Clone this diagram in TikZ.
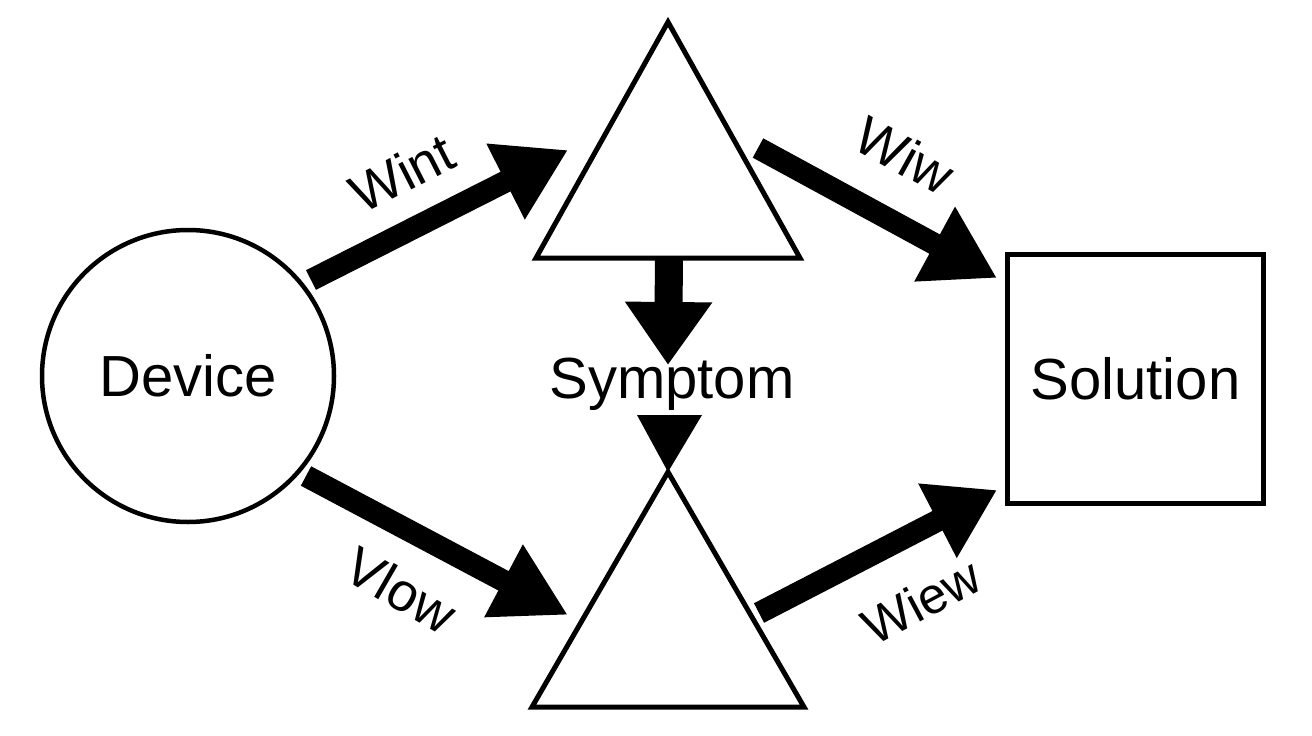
\documentclass[tikz,border=0pt]{standalone}
\usepackage{fontspec}
\setmainfont{Liberation Sans}
\usetikzlibrary{arrows.meta}
\begin{document}
\begin{tikzpicture}[x=1pt,y=-1pt,
  outl/.style={draw=black, line width=5pt, line join=miter},
  big/.style={font=\fontsize{58}{70}\selectfont},
  lab/.style={font=\fontsize{54}{64}\selectfont, inner sep=0pt},
  fat/.style={line width=22pt, -{Triangle[length=70pt,width=80pt]}},
]
\useasboundingbox[fill=white] (0,0) rectangle (1312,736);
% nodes
\node[circle, draw=black, line width=4.5pt, minimum size=292pt, inner sep=0pt, big] (dev) at (188,376) {Device};
\node[outl, minimum width=256pt, minimum height=249pt, inner sep=0pt, big] (sol) at (1135.5,379) {Solution};
\node[big, anchor=base, inner sep=0pt] (sym) at (672,398) {Symptom};
% triangles
\coordinate (t1a) at (668,22);
\coordinate (t1l) at (536,258);
\coordinate (t1r) at (800,258);
\coordinate (t2a) at (668,472);
\coordinate (t2l) at (532,707);
\coordinate (t2r) at (804,707);
\draw[outl] (t1a) -- (t1r) -- (t1l) -- cycle;
\draw[outl] (t2a) -- (t2r) -- (t2l) -- cycle;
% arrow endpoints
\coordinate (a1s) at (311,280);
\coordinate (a1e) at (568,150);
\coordinate (a2s) at (758,148);
\coordinate (a2e) at (997,278);
\coordinate (a3s) at (669,258);
\coordinate (a3e) at (668,365);
\coordinate (a5s) at (306,476);
\coordinate (a5e) at (568,615);
\coordinate (a6s) at (759,613);
\coordinate (a6e) at (997,490);
\draw[fat] (a1s) -- (a1e);
\draw[fat, -{Triangle[length=71pt,width=80pt]}] (a2s) -- (a2e);
\draw[line width=28pt, -{Triangle[length=63pt,width=83pt]}] (a3s) -- (a3e);
\draw[fat, -{Triangle[length=73pt,width=77pt]}] (a5s) -- (a5e);
\draw[fat, -{Triangle[length=67pt,width=79pt]}] (a6s) -- (a6e);
% small head below Symptom
\coordinate (h4l) at (637,415);
\coordinate (h4r) at (702,415);
\fill (h4l) -- (h4r) -- (t2a) -- cycle;
% labels
\node[lab, rotate=27] (l1) at (402,173) {Wint};
\node[lab, rotate=-29] (l2) at (905,155) {Wiw};
\node[lab, rotate=-30] (l5) at (401,590) {Vlow};
\node[lab, rotate=28, font=\fontsize{51}{60}\selectfont] (l6) at (921,601) {Wiew};
\end{tikzpicture}
\end{document}
